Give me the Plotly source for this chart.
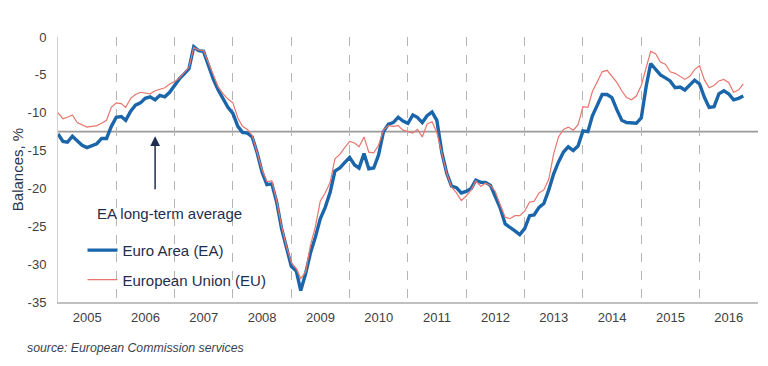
import pandas as pd
import plotly.graph_objects as go

# Monthly consumer confidence balances, Jan 2005 - Oct 2016
ea_values = [
    -12.8, -13.8, -13.9, -13.1, -13.7, -14.3, -14.6, -14.3, -14.1, -13.4, -13.4, -11.8,  # 2005
    -10.6, -10.5, -11.0, -9.8, -9.0, -8.7, -8.1, -7.9, -8.3, -7.7, -7.9, -7.3,           # 2006
    -6.4, -5.5, -4.9, -4.2, -1.3, -1.8, -1.9, -3.8, -5.6, -7.0, -8.1, -9.3,              # 2007
    -10.1, -11.8, -12.6, -12.7, -13.2, -15.3, -17.8, -19.5, -19.4, -21.8, -25.3, -28.0,  # 2008
    -30.3, -30.9, -33.5, -31.2, -28.5, -26.4, -24.0, -22.5, -20.5, -17.7, -17.3, -16.6,  # 2009
    -15.9, -16.9, -17.3, -15.4, -17.4, -17.3, -15.6, -12.5, -11.5, -11.3, -10.6, -11.1,  # 2010
    -11.4, -10.3, -10.6, -11.3, -10.4, -9.9, -11.0, -15.2, -18.0, -19.7, -19.9, -20.6,   # 2011
    -20.4, -20.0, -18.9, -19.2, -19.2, -19.6, -21.0, -22.6, -24.7, -25.1, -25.6, -26.1,  # 2012
    -25.3, -23.6, -23.5, -22.5, -22.0, -20.2, -18.1, -16.5, -15.2, -14.5, -15.0, -14.4,  # 2013
    -12.4, -12.5, -10.4, -9.0, -7.6, -7.6, -8.0, -9.6, -11.0, -11.3, -11.4, -11.4,       # 2014
    -10.7, -6.5, -3.5, -4.3, -5.0, -5.4, -5.8, -6.7, -6.6, -7.0, -6.4, -5.7,             # 2015
    -6.2, -8.0, -9.3, -9.2, -7.5, -7.1, -7.5, -8.3, -8.1, -7.8,                          # 2016
]
eu_values = [
    -10.0, -10.8, -10.6, -10.3, -11.3, -11.6, -11.9, -11.8, -11.7, -11.4, -11.0, -9.3,   # 2005
    -8.7, -8.8, -9.3, -8.1, -7.6, -7.3, -7.4, -7.5, -7.1, -6.9, -6.7, -6.2,              # 2006
    -5.9, -5.4, -4.8, -4.0, -1.4, -1.7, -1.8, -3.4, -5.0, -6.6, -7.5, -8.2,              # 2007
    -8.7, -10.7, -11.8, -12.2, -13.0, -15.2, -17.5, -19.1, -19.0, -21.6, -25.0, -27.6,   # 2008
    -29.8, -30.6, -31.9, -31.0, -27.5, -25.0, -21.7, -20.6, -19.2, -16.1, -15.5, -14.6,  # 2009
    -13.8, -14.0, -14.5, -13.2, -15.2, -15.3, -14.3, -12.3, -11.7, -11.8, -11.7, -12.3,  # 2010
    -12.5, -12.7, -12.2, -13.2, -11.5, -11.2, -12.6, -15.5, -18.0, -19.8, -20.6, -21.6,  # 2011
    -21.0, -20.2, -19.0, -19.7, -19.3, -19.6, -20.4, -22.2, -23.8, -24.0, -23.6, -23.6,  # 2012
    -23.0, -21.8, -21.7, -20.6, -20.2, -18.8, -15.5, -13.2, -12.2, -11.9, -12.3, -11.6,  # 2013
    -9.2, -9.3, -7.2, -5.9, -4.6, -4.4, -5.2, -6.0, -7.1, -8.0, -8.3, -7.8,              # 2014
    -6.4, -3.9, -1.9, -2.2, -3.3, -3.6, -4.6, -4.8, -5.2, -5.6, -5.2, -4.3,              # 2015
    -3.8, -5.7, -6.7, -6.4, -5.8, -5.6, -6.0, -7.3, -7.0, -6.2,                          # 2016
]
ea_long_term_avg = -12.5

y_tick_vals = [0, -5, -10, -15, -20, -25, -30, -35]
y_tick_labels = ["0", "-5", "-10", "-15", "-20", "-25", "-30", "-35"]

dates = pd.date_range("2005-01-01", periods=len(ea_values), freq="MS")

NAVY = "#1F2D4E"
FONT = "Liberation Sans, Arial"
fig = go.Figure()
fig.add_trace(go.Scatter(x=dates, y=ea_values, mode="lines", name="Euro Area (EA)",
                         legendgroup="ea",
                         line=dict(color="#1B66AA", width=3.4)))
fig.add_trace(go.Scatter(x=dates, y=eu_values, mode="lines", name="European Union (EU)",
                         legendgroup="eu",
                         line=dict(color="#E8766E", width=1.2)))

fig.add_hline(y=ea_long_term_avg, line=dict(color="#9A9A9A", width=1.6), layer="below")

# arrow pointing to the long-term average
arrow_x = pd.Timestamp("2006-09-01")
fig.add_annotation(x=arrow_x, y=ea_long_term_avg - 0.6, ax=arrow_x, ay=-20.3,
                   xref="x", yref="y", axref="x", ayref="y", text="",
                   showarrow=True, arrowhead=2, arrowsize=1.3, arrowwidth=1.5,
                   arrowcolor=NAVY)
fig.add_annotation(x=pd.Timestamp("2006-12-01"), y=-23.3, xref="x", yref="y",
                   text="EA long-term average", showarrow=False,
                   font=dict(family=FONT, size=15, color=NAVY))

fig.add_annotation(x=-0.047, y=-0.175, xref="paper", yref="paper",
                   xanchor="left", yanchor="middle",
                   text="<i>source: European Commission services</i>", showarrow=False,
                   font=dict(family=FONT, size=12.3, color="#3A3F4F"))

# the page body adds an 8px offset, so the figure is 8px smaller than the window
fig.update_layout(
    width=760, height=358,
    margin=dict(l=50, r=10, t=29, b=64),
    paper_bgcolor="white", plot_bgcolor="white",
    font=dict(family=FONT, color="#404040"),
    showlegend=True,
    legend=dict(x=0.035, y=0.14, xanchor="left", yanchor="middle",
                traceorder="grouped", tracegroupgap=7,
                bgcolor="rgba(0,0,0,0)",
                font=dict(family=FONT, size=15, color=NAVY)),
    xaxis=dict(
        type="date",
        range=["2005-01-01", "2017-01-01"],
        tick0="2005-01-01", dtick="M12", tickformat="%Y",
        ticklabelmode="period",
        showgrid=True, gridcolor="#B5B5B5", griddash="dash", gridwidth=1,
        showline=True, linecolor="#C0C0C0", linewidth=1.5,
        ticks="", zeroline=False, automargin=False, ticklabelstandoff=3,
        tickfont=dict(size=13, color="#404040"),
    ),
    yaxis=dict(
        range=[-35, 0],
        tickvals=y_tick_vals, ticktext=y_tick_labels,
        showgrid=False, zeroline=False, automargin=False,
        showline=True, linecolor="#D0D0D0", linewidth=1,
        ticks="", ticklabelstandoff=8,
        tickfont=dict(size=13, color="#404040"),
        title=dict(text="Balances, %", standoff=0,
                   font=dict(size=15, color="#2A3550")),
    ),
)

fig.write_html("out.html")
